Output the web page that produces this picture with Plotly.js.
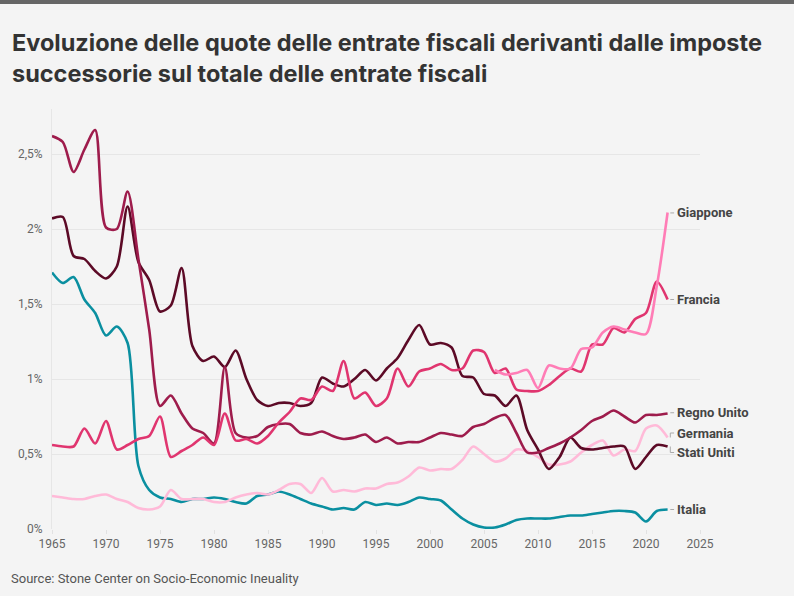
<!DOCTYPE html>
<html>
<head>
<meta charset="utf-8">
<script src="https://cdn.plot.ly/plotly-3.0.1.min.js"></script>
<style>
  html, body { margin: 0; padding: 0; background: #f4f4f4; }
  #top { height: 4px; background: #666; }
  #chart { width: 794px; height: 592px; }
</style>
</head>
<body>
<div id="top"></div>
<div id="chart"></div>
<script>
// Years 1965–2022, share of inheritance taxes on total tax revenue (%)
const years = [];
for (let y = 1965; y <= 2022; y++) years.push(y);

const statiUniti = [2.07, 2.08, 1.82, 1.80, 1.72, 1.67, 1.75, 2.15, 1.78, 1.66,
  1.45, 1.49, 1.74, 1.22, 1.12, 1.15, 1.08, 1.19, 1.00, 0.86,
  0.82, 0.84, 0.84, 0.82, 0.84, 1.01, 0.97, 0.95, 1.00, 1.06,
  0.99, 1.07, 1.14, 1.26, 1.36, 1.23, 1.24, 1.21, 1.02, 1.01,
  0.90, 0.89, 0.82, 0.89, 0.66, 0.53, 0.40, 0.48, 0.61, 0.54,
  0.53, 0.54, 0.55, 0.55, 0.40, 0.48, 0.56, 0.55];

const regnoUnito = [2.62, 2.58, 2.38, 2.53, 2.66, 2.01, 2.00, 2.25, 1.80, 1.33,
  0.82, 0.89, 0.77, 0.67, 0.64, 0.57, 1.08, 0.64, 0.61, 0.62,
  0.68, 0.70, 0.70, 0.64, 0.63, 0.65, 0.62, 0.60, 0.61, 0.63,
  0.58, 0.61, 0.57, 0.58, 0.58, 0.61, 0.64, 0.63, 0.62, 0.68,
  0.70, 0.74, 0.76, 0.64, 0.51, 0.51, 0.54, 0.57, 0.61, 0.66,
  0.72, 0.75, 0.79, 0.75, 0.71, 0.76, 0.76, 0.77];

const francia = [0.56, 0.55, 0.55, 0.67, 0.57, 0.72, 0.53, 0.56, 0.60, 0.62,
  0.75, 0.48, 0.52, 0.56, 0.61, 0.56, 0.77, 0.59, 0.60, 0.57,
  0.62, 0.71, 0.78, 0.87, 0.86, 0.95, 0.92, 1.12, 0.87, 0.91,
  0.82, 0.87, 1.07, 0.95, 1.05, 1.07, 1.10, 1.06, 1.07, 1.19,
  1.18, 1.04, 1.07, 0.93, 0.92, 0.92, 0.96, 1.02, 1.07, 1.05,
  1.23, 1.23, 1.34, 1.31, 1.40, 1.44, 1.65, 1.53];

const giappone = [null, null, null, null, null, null, null, null, null, null,
  null, null, null, null, null, null, null, null, null, null,
  null, null, null, null, null, null, null, null, null, null,
  null, null, null, null, null, null, null, null, null, null,
  null, 1.06, 1.03, 1.04, 1.06, 0.94, 1.09, 1.07, 1.07, 1.20,
  1.21, 1.31, 1.35, 1.33, 1.31, 1.30, 1.62, 2.11];

const germania = [0.22, 0.21, 0.20, 0.20, 0.22, 0.23, 0.20, 0.18, 0.14, 0.13,
  0.15, 0.26, 0.20, 0.20, 0.20, 0.18, 0.18, 0.21, 0.23, 0.24,
  0.23, 0.26, 0.30, 0.30, 0.24, 0.34, 0.25, 0.26, 0.25, 0.27,
  0.27, 0.30, 0.31, 0.35, 0.41, 0.39, 0.40, 0.40, 0.46, 0.55,
  0.50, 0.45, 0.47, 0.53, 0.52, 0.48, 0.43, 0.43, 0.45, 0.51,
  0.56, 0.59, 0.49, 0.53, 0.52, 0.67, 0.69, 0.61];

const italia = [1.71, 1.64, 1.68, 1.53, 1.44, 1.29, 1.35, 1.24, 0.42, 0.26,
  0.21, 0.20, 0.18, 0.20, 0.20, 0.21, 0.20, 0.18, 0.17, 0.22,
  0.23, 0.25, 0.23, 0.20, 0.17, 0.15, 0.13, 0.14, 0.13, 0.18,
  0.16, 0.17, 0.16, 0.18, 0.21, 0.20, 0.19, 0.13, 0.07, 0.03,
  0.01, 0.01, 0.03, 0.06, 0.07, 0.07, 0.07, 0.08, 0.09, 0.09,
  0.10, 0.11, 0.12, 0.12, 0.11, 0.05, 0.12, 0.13];

const yTickVals = [0, 0.5, 1, 1.5, 2, 2.5];
const yTickText = ["0%", "0,5%", "1%", "1,5%", "2%", "2,5%"];
const xTickVals = [1965, 1970, 1975, 1980, 1985, 1990, 1995, 2000, 2005, 2010, 2015, 2020, 2025];

// name, values, colour, label y position (in %)
const series = [
  ["Italia", italia, "#0a8fa0", 0.13],
  ["Germania", germania, "#ffbad8", 0.64],
  ["Stati Uniti", statiUniti, "#5c0a26", 0.51],
  ["Regno Unito", regnoUnito, "#9e1c4c", 0.775],
  ["Francia", francia, "#e0356f", 1.53],
  ["Giappone", giappone, "#ff7db6", 2.107],
];

const traces = series.map(([name, vals, color]) => ({
  type: "scatter", mode: "lines", name,
  x: years, y: vals,
  line: { color, width: 2.6, shape: "spline", smoothing: 0.8 },
  hoverinfo: "skip", showlegend: false,
}));

const annotations = series.map(([name, , , ly]) => ({
  text: "<b>" + name + "</b>", xref: "paper", yref: "y",
  x: 0.962, y: ly, xanchor: "left", yanchor: "middle", showarrow: false,
  font: { family: "Roboto, sans-serif", size: 13, color: "#444" },
}));
annotations.push({
  text: "Source: Stone Center on Socio-Economic Ineuality",
  xref: "paper", yref: "paper", x: -0.066, y: -0.117,
  xanchor: "left", yanchor: "middle", showarrow: false,
  font: { family: "Roboto, sans-serif", size: 13, color: "#555" },
});

// little connectors between line ends and labels
const shapes = [];
series.forEach(([, vals, , ly]) => {
  const end = vals[vals.length - 1];
  shapes.push({ type: "line", xref: "x", yref: "y", x0: 2022.25, x1: 2022.6, y0: ly, y1: ly,
    line: { color: "#aaa", width: 1 } });
  if (Math.abs(end - ly) > 0.01) {
    shapes.push({ type: "line", xref: "x", yref: "y", x0: 2022.25, x1: 2022.25, y0: end, y1: ly,
      line: { color: "#aaa", width: 1 } });
  }
});

const layout = {
  width: 794, height: 592,
  paper_bgcolor: "#f4f4f4", plot_bgcolor: "#f4f4f4",
  margin: { l: 52, r: 94, t: 105, b: 67 },
  font: { family: "Roboto, sans-serif", color: "#666" },
  title: {
    text: "Evoluzione delle quote delle entrate fiscali derivanti dalle imposte<br>successorie sul totale delle entrate fiscali",
    x: 12 / 794, xanchor: "left", xref: "container",
    y: 0.92, yanchor: "top", yref: "container",
    font: { family: "Inter, sans-serif", size: 23.5, weight: 700, color: "#333" },
  },
  xaxis: {
    range: [1965, 2025], tickvals: xTickVals, showgrid: false, zeroline: false,
    showline: false, ticks: "outside", ticklen: 4, tickcolor: "#e2e2e2",
    tickfont: { size: 12, color: "#666" },
  },
  yaxis: {
    range: [0, 2.8], tickvals: yTickVals, ticktext: yTickText,
    gridcolor: "#e6e6e6", gridwidth: 1, zeroline: false,
    showline: true, linecolor: "#e6e6e6", linewidth: 1, ticks: "",
    ticklabelstandoff: 6,
    tickfont: { size: 12, color: "#666" },
  },
  annotations, shapes,
};

Plotly.newPlot("chart", traces, layout, { displayModeBar: false, staticPlot: true });
</script>
</body>
</html>
